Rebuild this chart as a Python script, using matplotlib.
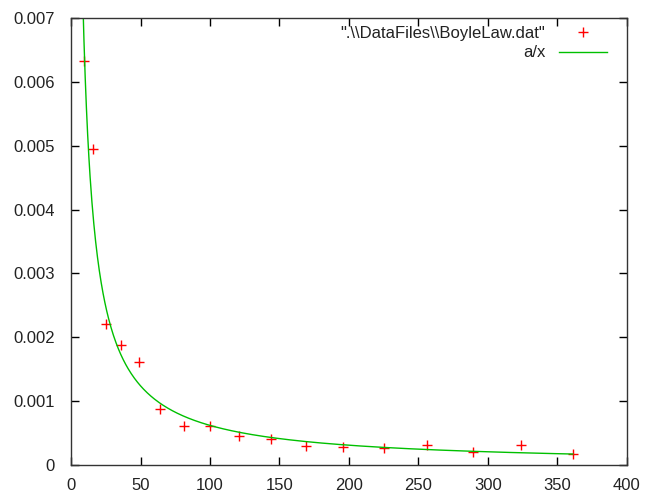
import numpy as np
import matplotlib
matplotlib.use("Agg")
import matplotlib.pyplot as plt

plt.rcParams['font.family'] = ['Liberation Sans', 'DejaVu Sans']

# data
volume = [9, 16, 25, 36, 49, 64, 81, 100, 121, 144, 169, 196, 225, 256, 289, 324, 361]
value = [0.00633, 0.00495, 0.00221, 0.00188, 0.00162, 0.00088, 0.00061, 0.00061,
         0.00046, 0.00041, 0.00029, 0.00028, 0.00026, 0.00031, 0.00021, 0.00031, 0.00017]
a_fit = 0.062
data_label = '".\\\\DataFiles\\\\BoyleLaw.dat"'
fit_label = 'a/x'

fig = plt.figure(figsize=(6.57, 4.92), dpi=100)
ax = fig.add_axes([71/657, 27/492, 556/657, 447/492])

ax.plot(volume, value, linestyle='none', marker='+', color='#ff0000',
        markersize=7, markeredgewidth=1.0, label=data_label)
xs = np.linspace(8.0, 361, 800)
ax.plot(xs, a_fit / xs, color='#00c000', linewidth=1.0, label=fit_label)

ax.set_xlim(0, 400)
ax.set_ylim(0, 0.007)
ax.set_xticks(np.arange(0, 401, 50))
ax.set_yticks(np.arange(0, 0.0071, 0.001))
ax.set_yticklabels(['0'] + ['%.3f' % v for v in np.arange(0.001, 0.0071, 0.001)])
ax.tick_params(direction='in', top=True, right=True, length=6, width=1,
               labelsize=12, colors='black')
ax.tick_params(axis='y', pad=11.5)
ax.tick_params(axis='x', pad=9)
for lab in ax.get_xticklabels() + ax.get_yticklabels():
    lab.set_color('#222222')
for s in ax.spines.values():
    s.set_linewidth(1.0)
    s.set_color('#333333')

leg = ax.legend(loc='upper right', frameon=False, markerfirst=False,
                fontsize=12, handlelength=2.9, borderaxespad=0, borderpad=0,
                bbox_to_anchor=(1 - 20/556, 1 - 8/447),
                labelspacing=0.27, handletextpad=0.8)
for t in leg.get_texts():
    t.set_ha('right')
    t.set_color('#222222')

fig.savefig('out.png', dpi=100)
